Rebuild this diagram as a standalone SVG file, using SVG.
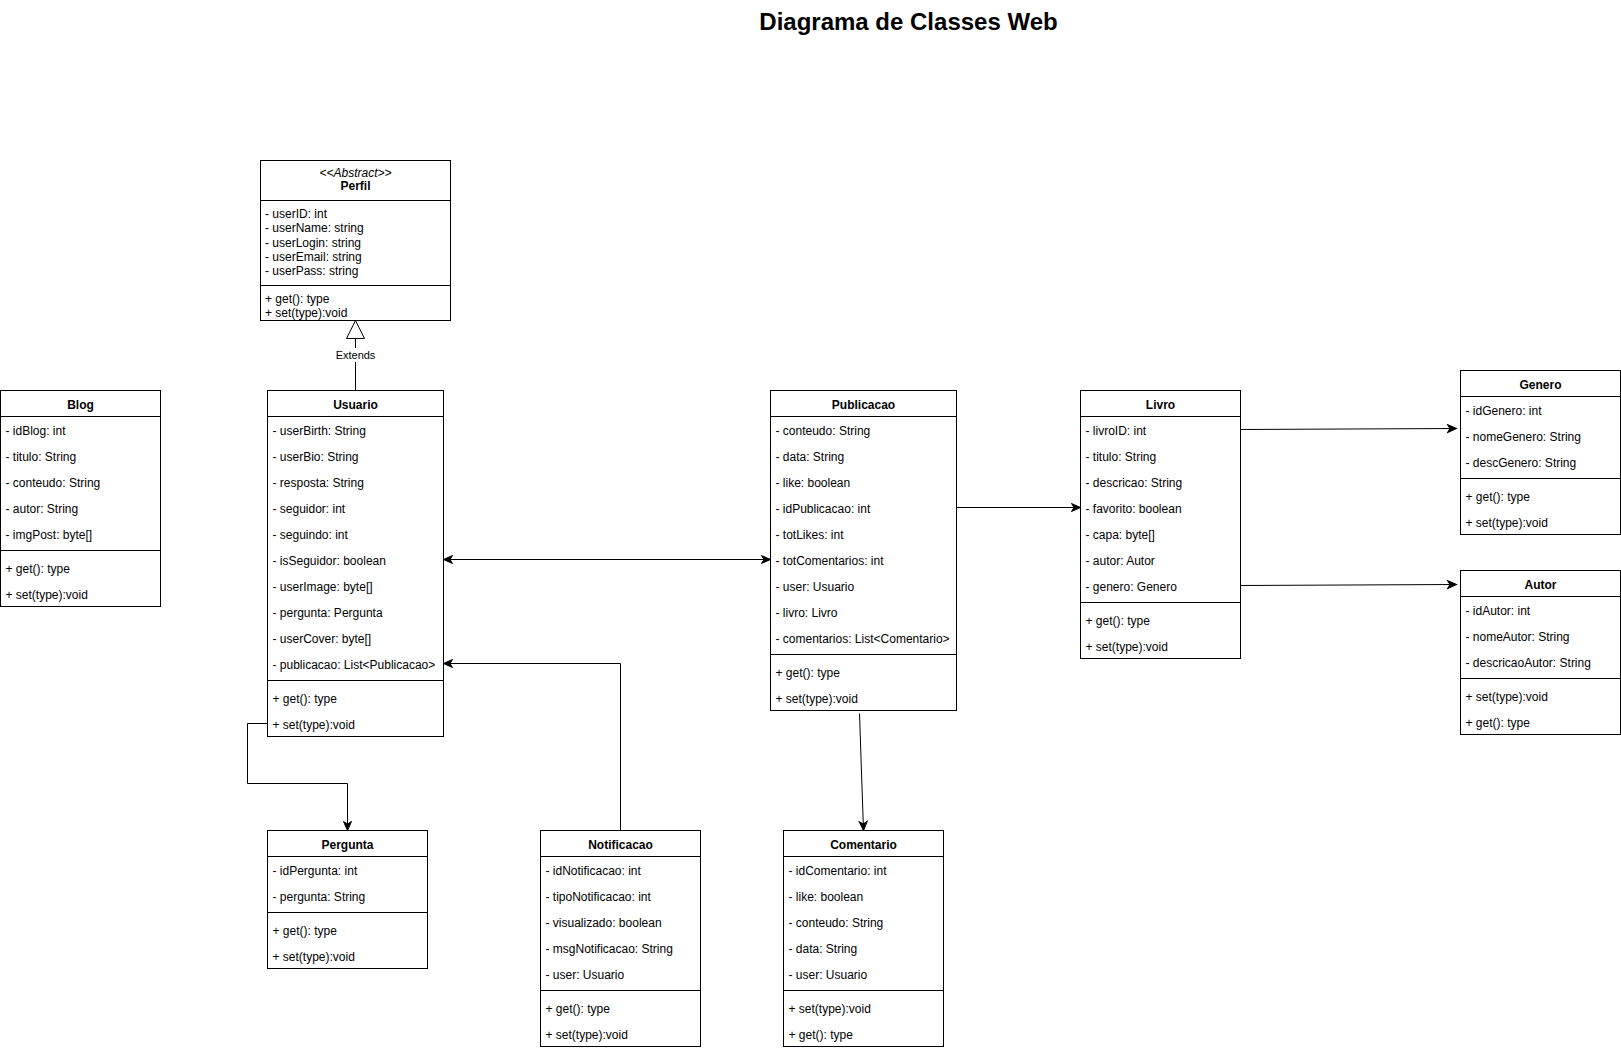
<svg xmlns="http://www.w3.org/2000/svg" width="1621" height="1049" viewBox="0 0 1621 1049">
<style>
.box{fill:#fff;stroke:#000;stroke-width:1}
.sep{stroke:#000;stroke-width:1}
.t{font-family:"Liberation Sans",Arial,Helvetica,sans-serif;font-size:12px;fill:#000}
.h{font-weight:bold;text-anchor:middle}
.i{font-style:italic;text-anchor:middle}
.edge{fill:none;stroke:#000;stroke-width:1}
.arr{marker-end:url(#arrow)}
.lbl{font-family:"Liberation Sans",Arial,Helvetica,sans-serif;font-size:11px;fill:#000;text-anchor:middle}
.title{font-family:"Liberation Sans",Arial,Helvetica,sans-serif;font-size:24px;font-weight:bold;fill:#000;text-anchor:middle}
</style>
<defs>
<marker id="arrow" markerUnits="userSpaceOnUse" viewBox="-10 -5 12 10" refX="0" refY="0" markerWidth="12" markerHeight="10" orient="auto-start-reverse">
<path d="M0,0 L-9,-4 L-6.5,0 L-9,4 Z" fill="#000" stroke="#000" stroke-width="1" stroke-linejoin="miter"/>
</marker>
</defs>
<rect x="0" y="0" width="1621" height="1049" fill="#fff"/>
<text class="title" x="908.5" y="29.8">Diagrama de Classes Web</text>

<g id="connectors">
<line class="edge" x1="355.5" y1="390.5" x2="355.5" y2="338.5"/>
<polygon points="355.5,320.5 346.5,338.5 364.5,338.5" fill="#fff" stroke="#000" stroke-width="1"/>
<rect x="334" y="348" width="43" height="14" fill="#fff"/>
<text class="lbl" x="355.5" y="358.6">Extends</text>
<line class="edge arr" x1="443.5" y1="559.5" x2="770.5" y2="559.5" marker-start="url(#arrow)"/>
<line class="edge arr" x1="956.5" y1="507.5" x2="1080.5" y2="507.5"/>
<line class="edge arr" x1="1240.5" y1="429.5" x2="1456.5" y2="428.5"/>
<line class="edge arr" x1="1240.5" y1="585.5" x2="1456.5" y2="584.5"/>
<path class="edge arr" d="M267.5,723.5 H247.5 V783.5 H347.5 V830.5"/>
<path class="edge arr" d="M620.5,830.5 V663.5 H443.5"/>
<path class="edge arr" d="M859.5,713.5 L863.5,830.5"/>
</g>

<g id="perfil">
<rect class="box" x="260.5" y="160.5" width="190" height="160"/>
<line class="sep" x1="260.5" y1="200.5" x2="450.5" y2="200.5"/>
<line class="sep" x1="260.5" y1="285.5" x2="450.5" y2="285.5"/>
<text class="t i" x="355.5" y="177.2">&lt;&lt;Abstract&gt;&gt;</text>
<text class="t h" x="355.5" y="190.2">Perfil</text>
<text class="t" x="265" y="217.7">- userID: int</text>
<text class="t" x="265" y="232.1">- userName: string</text>
<text class="t" x="265" y="246.5">- userLogin: string</text>
<text class="t" x="265" y="260.9">- userEmail: string</text>
<text class="t" x="265" y="275.3">- userPass: string</text>
<text class="t" x="265" y="302.5">+ get(): type</text>
<text class="t" x="265" y="316.9">+ set(type):void</text>
</g>

<g id="blog">
<rect class="box" x="0.5" y="390.5" width="160" height="216"/>
<line class="sep" x1="0.5" y1="416.5" x2="160.5" y2="416.5"/>
<line class="sep" x1="0.5" y1="550.5" x2="160.5" y2="550.5"/>
<text class="t h" x="80.5" y="408.9">Blog</text>
<text class="t" x="5.5" y="434.9">- idBlog: int</text>
<text class="t" x="5.5" y="460.9">- titulo: String</text>
<text class="t" x="5.5" y="486.9">- conteudo: String</text>
<text class="t" x="5.5" y="512.9">- autor: String</text>
<text class="t" x="5.5" y="538.9">- imgPost: byte[]</text>
<text class="t" x="5.5" y="572.9">+ get(): type</text>
<text class="t" x="5.5" y="598.9">+ set(type):void</text>
</g>

<g id="usuario">
<rect class="box" x="267.5" y="390.5" width="176" height="346"/>
<line class="sep" x1="267.5" y1="416.5" x2="443.5" y2="416.5"/>
<line class="sep" x1="267.5" y1="680.5" x2="443.5" y2="680.5"/>
<text class="t h" x="355.5" y="408.9">Usuario</text>
<text class="t" x="272.5" y="434.9">- userBirth: String</text>
<text class="t" x="272.5" y="460.9">- userBio: String</text>
<text class="t" x="272.5" y="486.9">- resposta: String</text>
<text class="t" x="272.5" y="512.9">- seguidor: int</text>
<text class="t" x="272.5" y="538.9">- seguindo: int</text>
<text class="t" x="272.5" y="564.9">- isSeguidor: boolean</text>
<text class="t" x="272.5" y="590.9">- userImage: byte[]</text>
<text class="t" x="272.5" y="616.9">- pergunta: Pergunta</text>
<text class="t" x="272.5" y="642.9">- userCover: byte[]</text>
<text class="t" x="272.5" y="668.9">- publicacao: List&lt;Publicacao&gt;</text>
<text class="t" x="272.5" y="702.9">+ get(): type</text>
<text class="t" x="272.5" y="728.9">+ set(type):void</text>
</g>

<g id="publicacao">
<rect class="box" x="770.5" y="390.5" width="186" height="320"/>
<line class="sep" x1="770.5" y1="416.5" x2="956.5" y2="416.5"/>
<line class="sep" x1="770.5" y1="654.5" x2="956.5" y2="654.5"/>
<text class="t h" x="863.5" y="408.9">Publicacao</text>
<text class="t" x="775.5" y="434.9">- conteudo: String</text>
<text class="t" x="775.5" y="460.9">- data: String</text>
<text class="t" x="775.5" y="486.9">- like: boolean</text>
<text class="t" x="775.5" y="512.9">- idPublicacao: int</text>
<text class="t" x="775.5" y="538.9">- totLikes: int</text>
<text class="t" x="775.5" y="564.9">- totComentarios: int</text>
<text class="t" x="775.5" y="590.9">- user: Usuario</text>
<text class="t" x="775.5" y="616.9">- livro: Livro</text>
<text class="t" x="775.5" y="642.9">- comentarios: List&lt;Comentario&gt;</text>
<text class="t" x="775.5" y="676.9">+ get(): type</text>
<text class="t" x="775.5" y="702.9">+ set(type):void</text>
</g>

<g id="livro">
<rect class="box" x="1080.5" y="390.5" width="160" height="268"/>
<line class="sep" x1="1080.5" y1="416.5" x2="1240.5" y2="416.5"/>
<line class="sep" x1="1080.5" y1="602.5" x2="1240.5" y2="602.5"/>
<text class="t h" x="1160.5" y="408.9">Livro</text>
<text class="t" x="1085.5" y="434.9">- livroID: int</text>
<text class="t" x="1085.5" y="460.9">- titulo: String</text>
<text class="t" x="1085.5" y="486.9">- descricao: String</text>
<text class="t" x="1085.5" y="512.9">- favorito: boolean</text>
<text class="t" x="1085.5" y="538.9">- capa: byte[]</text>
<text class="t" x="1085.5" y="564.9">- autor: Autor</text>
<text class="t" x="1085.5" y="590.9">- genero: Genero</text>
<text class="t" x="1085.5" y="624.9">+ get(): type</text>
<text class="t" x="1085.5" y="650.9">+ set(type):void</text>
</g>

<g id="genero">
<rect class="box" x="1460.5" y="370.5" width="160" height="164"/>
<line class="sep" x1="1460.5" y1="396.5" x2="1620.5" y2="396.5"/>
<line class="sep" x1="1460.5" y1="478.5" x2="1620.5" y2="478.5"/>
<text class="t h" x="1540.5" y="388.9">Genero</text>
<text class="t" x="1465.5" y="414.9">- idGenero: int</text>
<text class="t" x="1465.5" y="440.9">- nomeGenero: String</text>
<text class="t" x="1465.5" y="466.9">- descGenero: String</text>
<text class="t" x="1465.5" y="500.9">+ get(): type</text>
<text class="t" x="1465.5" y="526.9">+ set(type):void</text>
</g>

<g id="autor">
<rect class="box" x="1460.5" y="570.5" width="160" height="164"/>
<line class="sep" x1="1460.5" y1="596.5" x2="1620.5" y2="596.5"/>
<line class="sep" x1="1460.5" y1="678.5" x2="1620.5" y2="678.5"/>
<text class="t h" x="1540.5" y="588.9">Autor</text>
<text class="t" x="1465.5" y="614.9">- idAutor: int</text>
<text class="t" x="1465.5" y="640.9">- nomeAutor: String</text>
<text class="t" x="1465.5" y="666.9">- descricaoAutor: String</text>
<text class="t" x="1465.5" y="700.9">+ set(type):void</text>
<text class="t" x="1465.5" y="726.9">+ get(): type</text>
</g>

<g id="pergunta">
<rect class="box" x="267.5" y="830.5" width="160" height="138"/>
<line class="sep" x1="267.5" y1="856.5" x2="427.5" y2="856.5"/>
<line class="sep" x1="267.5" y1="912.5" x2="427.5" y2="912.5"/>
<text class="t h" x="347.5" y="848.9">Pergunta</text>
<text class="t" x="272.5" y="874.9">- idPergunta: int</text>
<text class="t" x="272.5" y="900.9">- pergunta: String</text>
<text class="t" x="272.5" y="934.9">+ get(): type</text>
<text class="t" x="272.5" y="960.9">+ set(type):void</text>
</g>

<g id="notificacao">
<rect class="box" x="540.5" y="830.5" width="160" height="216"/>
<line class="sep" x1="540.5" y1="856.5" x2="700.5" y2="856.5"/>
<line class="sep" x1="540.5" y1="990.5" x2="700.5" y2="990.5"/>
<text class="t h" x="620.5" y="848.9">Notificacao</text>
<text class="t" x="545.5" y="874.9">- idNotificacao: int</text>
<text class="t" x="545.5" y="900.9">- tipoNotificacao: int</text>
<text class="t" x="545.5" y="926.9">- visualizado: boolean</text>
<text class="t" x="545.5" y="952.9">- msgNotificacao: String</text>
<text class="t" x="545.5" y="978.9">- user: Usuario</text>
<text class="t" x="545.5" y="1012.9">+ get(): type</text>
<text class="t" x="545.5" y="1038.9">+ set(type):void</text>
</g>

<g id="comentario">
<rect class="box" x="783.5" y="830.5" width="160" height="216"/>
<line class="sep" x1="783.5" y1="856.5" x2="943.5" y2="856.5"/>
<line class="sep" x1="783.5" y1="990.5" x2="943.5" y2="990.5"/>
<text class="t h" x="863.5" y="848.9">Comentario</text>
<text class="t" x="788.5" y="874.9">- idComentario: int</text>
<text class="t" x="788.5" y="900.9">- like: boolean</text>
<text class="t" x="788.5" y="926.9">- conteudo: String</text>
<text class="t" x="788.5" y="952.9">- data: String</text>
<text class="t" x="788.5" y="978.9">- user: Usuario</text>
<text class="t" x="788.5" y="1012.9">+ set(type):void</text>
<text class="t" x="788.5" y="1038.9">+ get(): type</text>
</g>
</svg>
